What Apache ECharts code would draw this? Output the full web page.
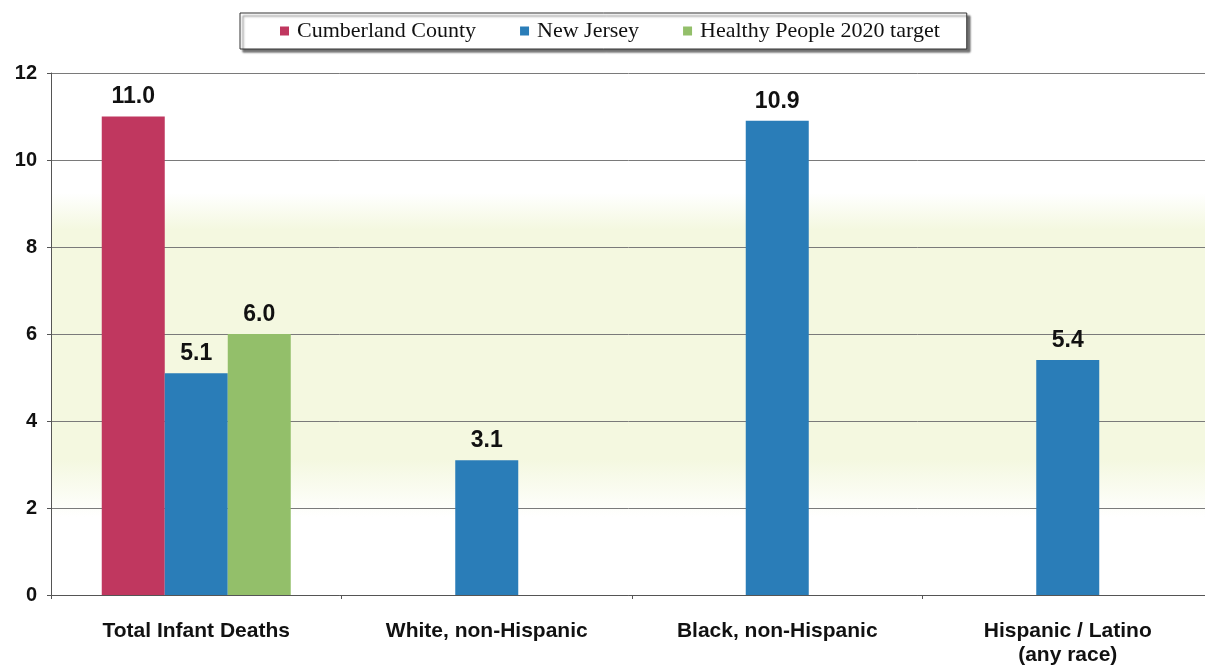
<!DOCTYPE html>
<html>
<head>
<meta charset="utf-8">
<script src="https://cdn.jsdelivr.net/npm/echarts@6/dist/echarts.min.js"></script>
<style>
  html, body { margin: 0; padding: 0; background: #fff; }
  #chart { width: 1205px; height: 668px; }
</style>
</head>
<body>
<div id="chart"></div>
<script>
// data
var categories = ['Total Infant Deaths', 'White, non-Hispanic', 'Black, non-Hispanic', 'Hispanic / Latino\n(any race)'];
var cumberland = [11.0, null, null, null];
var newJersey = [5.1, 3.1, 10.9, 5.4];
var healthyPeople = [6.0, null, null, null];
var yTicks = [0, 2, 4, 6, 8, 10, 12];

var chart = echarts.init(document.getElementById('chart'));

function barLabel() {
    return {
        show: true,
        position: 'top',
        distance: 8,
        fontFamily: 'Liberation Sans',
        fontWeight: 'bold',
        fontSize: 23,
        color: '#111',
        formatter: function (p) { return p.value == null ? '' : p.value.toFixed(1); }
    };
}

chart.setOption({
    animation: false,
    legend: {
        top: 13,
        left: 240,
        itemWidth: 9,
        itemHeight: 9,
        itemGap: 44,
        padding: [7, 27, 7, 40],
        icon: 'rect',
        borderColor: '#333',
        borderWidth: 1,
        backgroundColor: '#fff',
        shadowColor: 'rgba(0,0,0,0.55)',
        shadowBlur: 2,
        shadowOffsetX: 3,
        shadowOffsetY: 3,
        textStyle: {fontFamily: 'Liberation Serif', fontSize: 22, color: '#111', padding: [0, 0, 0, 3]},
        data: ['Cumberland County', 'New Jersey', 'Healthy People 2020 target']
    },
    grid: {
        left: 51, width: 1162, top: 73, bottom: 73,
        outerBoundsMode: 'none',
        show: true,
        borderWidth: 0,
        backgroundColor: {
            type: 'linear', x: 0, y: 0, x2: 0, y2: 1,
            colorStops: [
                {offset: 0, color: '#ffffff'},
                {offset: 0.23, color: '#ffffff'},
                {offset: 0.3, color: '#f4f8e0'},
                {offset: 0.74, color: '#f4f8e0'},
                {offset: 0.85, color: '#ffffff'},
                {offset: 1, color: '#ffffff'}
            ]
        }
    },
    xAxis: {
        type: 'category',
        data: categories,
        axisLine: {lineStyle: {color: '#555', width: 1}},
        axisTick: {show: true, length: 4, lineStyle: {color: '#555'}},
        axisLabel: {
            margin: 24,
            fontFamily: 'Liberation Sans',
            fontWeight: 'bold',
            fontSize: 21,
            color: '#111',
            lineHeight: 24,
            interval: 0
        }
    },
    yAxis: {
        type: 'value',
        min: yTicks[0],
        max: yTicks[yTicks.length - 1],
        interval: 2,
        axisLine: {show: true, lineStyle: {color: '#555', width: 1}},
        axisTick: {show: true, length: 4, lineStyle: {color: '#555'}},
        splitLine: {lineStyle: {color: '#7a7a7a', width: 1}},
        axisLabel: {
            margin: 14,
            fontFamily: 'Liberation Sans',
            fontWeight: 'bold',
            fontSize: 20,
            color: '#111'
        }
    },
    series: [
        {name: 'Cumberland County', type: 'bar', data: cumberland, barWidth: 63, barGap: '0%',
         itemStyle: {color: '#c0375f'}, label: barLabel()},
        {name: 'New Jersey', type: 'bar', data: newJersey, barWidth: 63, barGap: '0%',
         itemStyle: {color: '#2a7db8'}, label: barLabel()},
        {name: 'Healthy People 2020 target', type: 'bar', data: healthyPeople, barWidth: 63, barGap: '0%',
         itemStyle: {color: '#93bf6a'}, label: barLabel()}
    ]
});
</script>
</body>
</html>
